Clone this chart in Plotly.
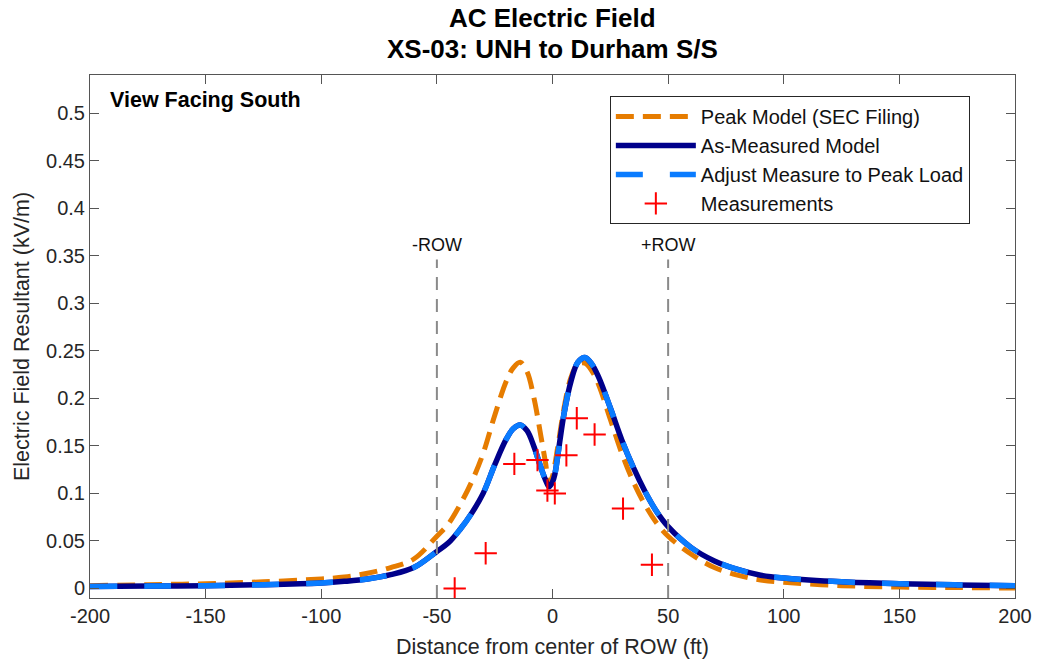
import plotly.graph_objects as go

# ---- data ----
x_model = [-200, -175, -150, -125, -100, -90, -80, -70, -60, -50, -45, -40, -35, -30, -25,
           -20, -17, -14, -11, -8, -5, -3, -1.5, 0, 1, 2, 3, 5, 8, 11, 14, 17, 20, 25, 30,
           35, 40, 45, 50, 60, 70, 80, 90, 100, 125, 150, 175, 200]

peak_model = [0.003, 0.004, 0.005, 0.007, 0.010, 0.012, 0.016, 0.022, 0.031, 0.055, 0.068,
              0.088, 0.112, 0.142, 0.182, 0.218, 0.232, 0.238, 0.228, 0.200, 0.160, 0.132,
              0.110, 0.118, 0.130, 0.145, 0.160, 0.190, 0.222, 0.236, 0.237, 0.229, 0.214,
              0.178, 0.142, 0.112, 0.088, 0.069, 0.055, 0.036, 0.022, 0.014, 0.009, 0.0065,
              0.003, 0.0015, 0.001, 0.0005]

as_measured = [0.002, 0.0025, 0.003, 0.004, 0.0058, 0.0075, 0.0100, 0.0145, 0.022, 0.039,
               0.048, 0.062, 0.079, 0.100, 0.130, 0.157, 0.168, 0.172, 0.166, 0.149, 0.127,
               0.114, 0.107, 0.112, 0.120, 0.135, 0.152, 0.184, 0.218, 0.238, 0.243, 0.236,
               0.222, 0.190, 0.156, 0.127, 0.102, 0.081, 0.065, 0.043, 0.029, 0.020, 0.014,
               0.011, 0.007, 0.005, 0.0038, 0.003]

adjusted_peak = [0.002, 0.0025, 0.003, 0.004, 0.0058, 0.0075, 0.0100, 0.0145, 0.022, 0.039,
                 0.048, 0.062, 0.079, 0.100, 0.130, 0.157, 0.168, 0.172, 0.166, 0.149, 0.127,
                 0.114, 0.107, 0.112, 0.120, 0.135, 0.152, 0.184, 0.218, 0.238, 0.243, 0.236,
                 0.222, 0.190, 0.156, 0.127, 0.102, 0.081, 0.065, 0.043, 0.029, 0.020, 0.014,
                 0.011, 0.007, 0.005, 0.0038, 0.003]

meas_x = [-42.3, -28.9, -16.5, -6.5, -2.2, 1.0, 6.0, 10.5, 18.2, 30.5, 43.0]
meas_y = [0.0, 0.037, 0.131, 0.135, 0.103, 0.100, 0.140, 0.179, 0.162, 0.084, 0.025]

row_x = [-50, 50]
row_labels = ["-ROW", "+ROW"]

x_ticks = [-200, -150, -100, -50, 0, 50, 100, 150, 200]
x_tick_text = ["-200", "-150", "-100", "-50", "0", "50", "100", "150", "200"]
y_ticks = [0, 0.05, 0.1, 0.15, 0.2, 0.25, 0.3, 0.35, 0.4, 0.45, 0.5]
y_tick_text = ["0", "0.05", "0.1", "0.15", "0.2", "0.25", "0.3", "0.35", "0.4", "0.45", "0.5"]

FONT = "Liberation Sans"
AX = "#262626"
LINE = "#555555"

fig = go.Figure()
fig.add_trace(go.Scatter(x=x_model, y=peak_model, mode="lines", name="Peak Model (SEC Filing)",
                         line=dict(color="#E67C00", width=5, dash="18px,9px", shape="spline")))
fig.add_trace(go.Scatter(x=x_model, y=as_measured, mode="lines", name="As-Measured Model",
                         line=dict(color="#00008B", width=5.5, shape="spline")))
fig.add_trace(go.Scatter(x=x_model, y=adjusted_peak, mode="lines", name="Adjust Measure to Peak Load",
                         line=dict(color="#0A7CFF", width=5.5, dash="27px,27px", shape="spline")))
fig.add_trace(go.Scatter(x=meas_x, y=meas_y, mode="markers", name="Measurements",
                         marker=dict(symbol="cross-thin", size=16, color="#FF0000",
                                     line=dict(color="#FF0000", width=2))))

shapes = []
annotations = []
for rx, rl in zip(row_x, row_labels):
    shapes.append(dict(type="line", xref="x", yref="y", x0=rx, x1=rx, y0=-0.01, y1=0.346,
                       line=dict(color="#8A8A8A", width=2, dash="13px,9px")))
    annotations.append(dict(x=rx, y=0.361, xref="x", yref="y", text=rl, showarrow=False,
                            font=dict(family=FONT, size=18, color="#111111"),
                            xanchor="center", yanchor="middle"))

annotations.append(dict(x=0.5, y=1.109, xref="paper", yref="paper", text="<b>AC Electric Field</b>",
                        showarrow=False, font=dict(family=FONT, size=26, color="#000000"),
                        xanchor="center", yanchor="middle"))
annotations.append(dict(x=0.5, y=1.05, xref="paper", yref="paper",
                        text="<b>XS-03: UNH to Durham S/S</b>",
                        showarrow=False, font=dict(family=FONT, size=26, color="#000000"),
                        xanchor="center", yanchor="middle"))
annotations.append(dict(x=0.0194, y=0.952, xref="paper", yref="paper", text="<b>View Facing South</b>",
                        showarrow=False, font=dict(family=FONT, size=21.5, color="#000000"),
                        xanchor="left", yanchor="middle"))

fig.update_layout(
    width=1044, height=666,
    margin=dict(l=90, r=24, t=75, b=68),
    paper_bgcolor="white", plot_bgcolor="white",
    font=dict(family=FONT, size=20, color=AX),
    shapes=shapes, annotations=annotations,
    showlegend=True,
    legend=dict(x=0.562, y=0.96, xanchor="left", yanchor="top", bgcolor="white",
                bordercolor=AX, borderwidth=1, itemwidth=80,
                font=dict(family=FONT, size=20, color="#111111"),
                tracegroupgap=0),
    xaxis=dict(range=[-200, 200], tickvals=x_ticks, ticktext=x_tick_text, ticks="inside",
               ticklen=9, tickwidth=1, tickcolor=LINE, showline=True, linecolor=LINE, linewidth=1,
               mirror="ticks", showgrid=False, zeroline=False,
               tickfont=dict(family=FONT, size=20, color=AX),
               title=dict(text="Distance from center of ROW (ft)", standoff=12,
                          font=dict(family=FONT, size=21.5, color=AX))),
    yaxis=dict(range=[-0.01, 0.54], tickvals=y_ticks, ticktext=y_tick_text, ticks="inside",
               ticklen=9, tickwidth=1, tickcolor=LINE, showline=True, linecolor=LINE, linewidth=1,
               mirror="ticks", showgrid=False, zeroline=False,
               tickfont=dict(family=FONT, size=20, color=AX),
               title=dict(text="Electric Field Resultant (kV/m)", standoff=10,
                          font=dict(family=FONT, size=21.5, color=AX))),
)

fig.write_html("out.html")
